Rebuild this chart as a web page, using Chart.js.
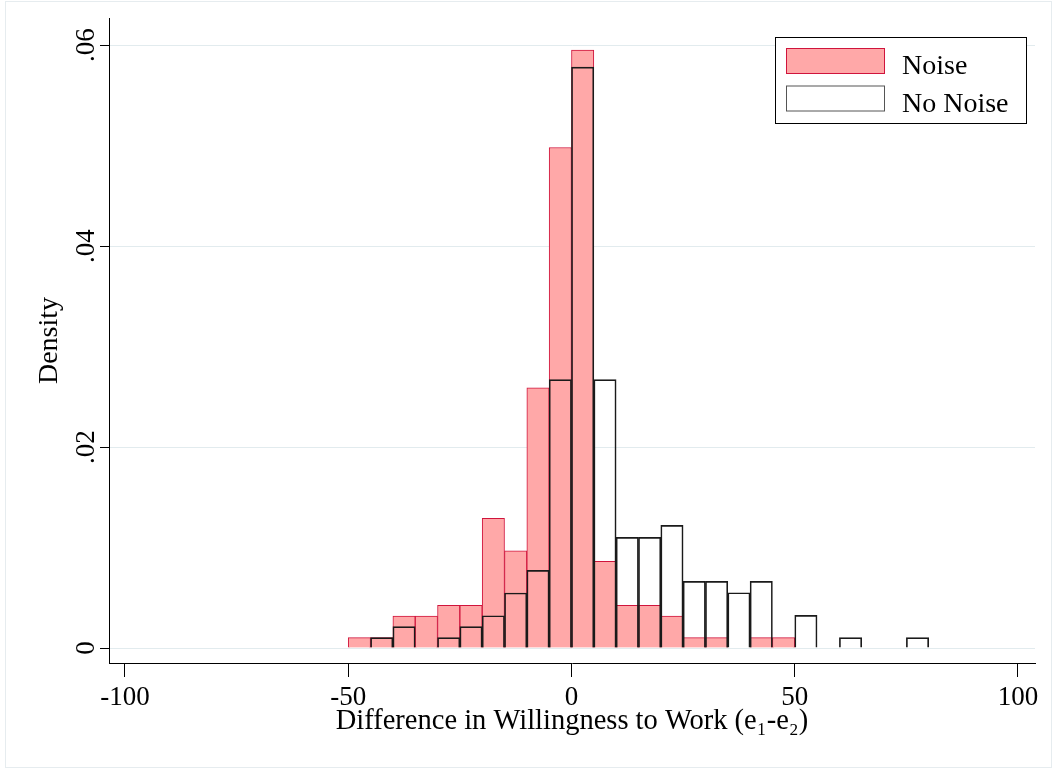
<!DOCTYPE html>
<html>
<head>
<meta charset="utf-8">
<script src="https://cdn.jsdelivr.net/npm/chart.js@4"></script>
<style>
  html, body { margin: 0; padding: 0; background: #fff; }
  #wrap { width: 1052px; height: 769px; position: relative; }
</style>
</head>
<body>
<div id="wrap"><canvas id="myChart"></canvas></div>
<script>
// histogram bins (left edge, width 5)
const binStarts = [-50, -45, -40, -35, -30, -25, -20, -15, -10, -5, 0, 5, 10, 15, 20, 25, 30, 35, 40, 45, 50, 55, 60, 65, 70, 75];
const binWidth = 5;

const noise = [0.00103, 0.00103, 0.00318, 0.00318, 0.00425, 0.00425, 0.0129, 0.00968, 0.0259, 0.0498,
    0.0595, 0.00863, 0.00425, 0.00425, 0.00318, 0.00103, 0.00103, null, 0.00103, 0.00103,
    null, null, null, null, null, null];

const noNoise = [null, 0.00103, 0.00212, null, 0.00103, 0.00212, 0.00321, 0.00547, 0.00773, 0.0267,
    0.0578, 0.0267, 0.0110, 0.0110, 0.0122, 0.00663, 0.00663, 0.0055, 0.00663, null,
    0.00325, null, 0.00103, null, null, 0.00103];

const xTicks = [-100, -50, 0, 50, 100];
const yTicks = [0, 0.02, 0.04, 0.06];
const yTickLabels = ['0', '.02', '.04', '.06'];
const seriesNames = ['Noise', 'No Noise'];

const serif = '"Liberation Serif", "Times New Roman", serif';
const noiseFill = '#ffa8a8';
const noiseLine = '#d0143c';
const plainLine = '#1a1a1a';

function toPoints(values) {
    return binStarts.map((s, i) => ({ x: s + binWidth / 2, y: values[i] }));
}

// faint frame around the whole graph
const framePlugin = {
    id: 'frame',
    beforeDraw(chart) {
        const c = chart.ctx;
        c.save();
        c.strokeStyle = '#e6ecef';
        c.lineWidth = 1;
        c.strokeRect(5.5, 1.5, chart.width - 6, chart.height - 3);
        c.restore();
    }
};

// rotated y tick labels, like the original
const yLabelsPlugin = {
    id: 'yLabels',
    afterDraw(chart) {
        const c = chart.ctx;
        const y = chart.scales.y;
        c.save();
        c.fillStyle = '#000';
        c.font = '27px ' + serif;
        c.textAlign = 'center';
        c.textBaseline = 'middle';
        yTicks.forEach((v, i) => {
            c.save();
            c.translate(87, y.getPixelForValue(v));
            c.rotate(-Math.PI / 2);
            c.fillText(yTickLabels[i], 0, 0);
            c.restore();
        });
        c.restore();
    }
};

// legend box in the top right corner of the plot
const legendPlugin = {
    id: 'boxLegend',
    afterDraw(chart) {
        const c = chart.ctx;
        const a = chart.chartArea;
        const bx = a.right - 260, by = a.top + 19;
        c.save();
        c.fillStyle = '#fff';
        c.fillRect(bx, by, 251, 86);
        c.strokeStyle = '#000';
        c.lineWidth = 1;
        c.strokeRect(bx + 0.5, by + 0.5, 251, 86);

        const styles = [[noiseFill, noiseLine], ['#fff', '#555']];
        c.font = '28px ' + serif;
        c.textBaseline = 'alphabetic';
        seriesNames.forEach((name, i) => {
            const sy = by + 11 + i * 37.5;
            c.fillStyle = styles[i][0];
            c.fillRect(bx + 11, sy, 99, 26);
            c.strokeStyle = styles[i][1];
            c.strokeRect(bx + 11.5, sy + 0.5, 98, 25);
            c.fillStyle = '#000';
            c.fillText(name, bx + 127, sy + 26);
        });
        c.restore();
    }
};

const ctx = document.getElementById('myChart');

new Chart(ctx, {
    type: 'bar',
    data: {
        datasets: [{
            label: seriesNames[1],
            data: toPoints(noNoise),
            backgroundColor: 'rgba(255,255,255,0)',
            borderColor: plainLine,
            borderWidth: 1,
        },
        {
            label: seriesNames[0],
            data: toPoints(noise),
            backgroundColor: noiseFill,
            borderColor: noiseLine,
            borderWidth: 1,
        }]
    },
    options: {
        responsive: true,
        maintainAspectRatio: false,
        animation: false,
        grouped: false,
        barPercentage: 1,
        categoryPercentage: 1,
        layout: { padding: { top: 18, right: 17, left: 0, bottom: 0 } },
        plugins: {
            legend: { display: false },
            tooltip: { enabled: false },
        },
        scales: {
            x: {
                type: 'linear',
                offset: false,
                min: -103.58,
                max: 103.81,
                afterBuildTicks: (s) => { s.ticks = xTicks.map(v => ({ value: v })); },
                afterFit: (s) => { s.height = 106; },
                border: { color: '#000', width: 1 },
                grid: {
                    offset: false,
                    drawOnChartArea: false,
                    tickLength: 14,
                    tickColor: '#000',
                },
                ticks: {
                    color: '#000',
                    font: { family: serif, size: 27 },
                    padding: 5,
                    maxRotation: 0,
                    autoSkip: false,
                },
                title: {
                    display: true,
                    text: 'Difference in Willingness to Work (e\u2081-e\u2082)',
                    color: '#000',
                    font: { family: serif, size: 28.5 },
                    padding: { top: 0, bottom: 30 },
                }
            },
            y: {
                min: -0.0014925,
                max: 0.062687,
                afterBuildTicks: (s) => { s.ticks = yTicks.map(v => ({ value: v })); },
                afterFit: (s) => { s.width = 109; },
                border: { color: '#000', width: 1 },
                grid: {
                    color: '#e2ebee',
                    tickColor: '#000',
                    tickLength: 9,
                },
                ticks: { display: false },
                title: {
                    display: true,
                    text: 'Density',
                    color: '#000',
                    font: { family: serif, size: 28 },
                    padding: { top: 33, bottom: 0 },
                }
            }
        }
    },
    plugins: [framePlugin, yLabelsPlugin, legendPlugin]
});
</script>
</body>
</html>
